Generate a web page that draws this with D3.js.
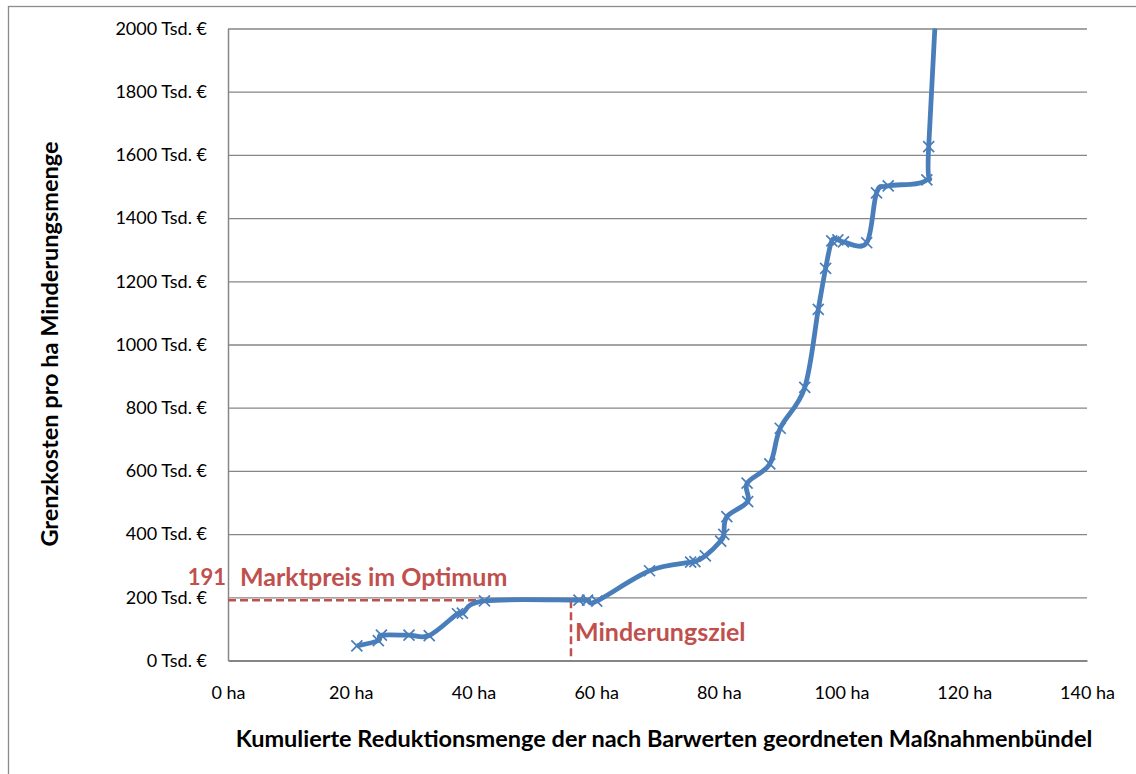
<!DOCTYPE html>
<html>
<head>
	<meta charset="utf-8">
	<title>grenzkosten</title>
	<script type="text/javascript" src="https://cdn.jsdelivr.net/npm/d3@7/dist/d3.min.js"></script>
	<style type="text/css">
		body{
			margin: 0;
			background-color: #fff;
		}
		svg text{
			font-family: Lato, "Open Sans", sans-serif;
			fill: #000;
		}
	</style>
</head>
<body>
	<div id="chart"></div>
	<script type="text/javascript">
		// kumulierte Reduktionsmenge (ha) und Grenzkosten (Tsd. €)
		var reduktion = [21.0, 24.5, 25.0, 29.5, 32.8, 37.4, 38.2, 41.8, 57.2, 58.6, 60.1, 68.7, 75.4, 76.1, 77.8, 80.3, 80.8, 81.3, 84.7, 84.6, 88.3, 90.0, 94.0, 96.2, 97.4, 98.4, 99.4, 100.3, 104.1, 105.7, 107.6, 113.9, 114.2, 116.4];
		var grenzkosten = [46, 63, 80, 80, 79, 148, 150, 189, 191, 191, 188, 284, 311, 313, 331, 378, 399, 455, 503, 561, 622, 735, 864, 1111, 1241, 1328, 1331, 1325, 1322, 1480, 1502, 1521, 1626, 2450];
		var xTicks = [0, 20, 40, 60, 80, 100, 120, 140];
		var yTicks = [0, 200, 400, 600, 800, 1000, 1200, 1400, 1600, 1800, 2000];
		var marktpreis = 191;
		var minderungsziel = 55.9;

		var width = 1136, height = 774;
		var pLeft = 228, pRight = 1087, pTop = 28.5, pBottom = 660.5;
		var blue = '#4a7ebb', red = '#c0504d', grid = '#868686';

		var svg = d3.select('#chart').append('svg')
			.attr('width', width)
			.attr('height', height);

		// aeusserer Rahmen
		svg.append('rect')
			.attr('x', 8.5).attr('y', 6.5)
			.attr('width', 1140).attr('height', 800)
			.attr('fill', 'none')
			.attr('stroke', '#8c8c8c')
			.attr('stroke-width', 1.3);

		var x = d3.scaleLinear().domain([0, 140]).range([pLeft, pRight]);
		var y = d3.scaleLinear().domain([0, 2000]).range([pBottom, pTop]);

		// Gitterlinien
		svg.append('g')
			.attr('transform', 'translate(' + pLeft + ',0)')
			.call(d3.axisLeft(y).tickValues(yTicks.slice(1)).tickSize(-(pRight - pLeft)).tickFormat(''))
			.call(function(g){
				g.select('.domain').remove();
				g.selectAll('line').attr('stroke', grid).attr('stroke-width', 1.3);
			});

		// y-Achse
		svg.append('g')
			.attr('transform', 'translate(' + pLeft + ',0)')
			.call(d3.axisLeft(y).tickValues(yTicks).tickSize(0).tickPadding(21)
				.tickFormat(function(d){ return d + ' Tsd. €'; }))
			.call(function(g){
				g.select('.domain').attr('stroke', grid).attr('stroke-width', 1.5);
				g.selectAll('text').style('font-size', '18px').attr('fill', '#000');
			});

		// x-Achse
		svg.append('g')
			.attr('transform', 'translate(0,' + pBottom + ')')
			.call(d3.axisBottom(x).tickValues(xTicks).tickSize(0).tickPadding(26)
				.tickFormat(function(d){ return d + ' ha'; }))
			.call(function(g){
				g.select('.domain').attr('stroke', grid).attr('stroke-width', 2);
				g.selectAll('text').style('font-size', '18px').attr('fill', '#000');
			});

		// Achsentitel
		svg.append('text')
			.attr('x', 664).attr('y', 747)
			.attr('text-anchor', 'middle')
			.style('font-size', '23.5px').style('font-weight', 'bold')
			.text('Kumulierte Reduktionsmenge der nach Barwerten geordneten Maßnahmenbündel');

		svg.append('text')
			.attr('transform', 'translate(58,344) rotate(-90)')
			.attr('text-anchor', 'middle')
			.style('font-size', '23.5px').style('font-weight', 'bold')
			.text('Grenzkosten pro ha Minderungsmenge');

		// Markierungen Optimum
		svg.append('line')
			.attr('x1', x(0)).attr('x2', x(minderungsziel))
			.attr('y1', y(marktpreis)).attr('y2', y(marktpreis))
			.attr('stroke', red).attr('stroke-width', 2.5)
			.attr('stroke-dasharray', '8,4');
		svg.append('line')
			.attr('x1', x(minderungsziel)).attr('x2', x(minderungsziel))
			.attr('y1', y(marktpreis)).attr('y2', y(0))
			.attr('stroke', red).attr('stroke-width', 2.5)
			.attr('stroke-dasharray', '8,4');

		svg.append('text')
			.attr('x', 226).attr('y', 585)
			.attr('text-anchor', 'end')
			.style('font-size', '22px').style('font-weight', 'bold')
			.style('fill', red)
			.text(marktpreis);
		svg.append('text')
			.attr('x', 240).attr('y', 586)
			.style('font-size', '25px').style('font-weight', 'bold')
			.style('fill', red)
			.text('Marktpreis im Optimum');
		svg.append('text')
			.attr('x', 575).attr('y', 641)
			.style('font-size', '25px').style('font-weight', 'bold')
			.style('fill', red)
			.text('Minderungsziel');

		// Kurve
		svg.append('clipPath').attr('id', 'plotclip')
			.append('rect')
			.attr('x', pLeft).attr('y', pTop)
			.attr('width', pRight - pLeft).attr('height', pBottom - pTop);

		var punkte = reduktion.map(function(d, i){ return [d, grenzkosten[i]]; });

		var plot = svg.append('g').attr('clip-path', 'url(#plotclip)');

		var linie = d3.line()
			.x(function(d){ return x(d[0]); })
			.y(function(d){ return y(d[1]); })
			.curve(d3.curveCatmullRom.alpha(0));

		plot.append('path')
			.datum(punkte)
			.attr('d', linie)
			.attr('fill', 'none')
			.attr('stroke', blue)
			.attr('stroke-width', 4.8)
			.attr('stroke-linejoin', 'round');

		var s = 5.5;
		plot.selectAll('path.marker').data(punkte).enter()
			.append('path')
			.attr('class', 'marker')
			.attr('d', function(d){
				var cx = x(d[0]), cy = y(d[1]);
				return 'M' + (cx - s) + ',' + (cy - s) + 'L' + (cx + s) + ',' + (cy + s) +
					'M' + (cx - s) + ',' + (cy + s) + 'L' + (cx + s) + ',' + (cy - s);
			})
			.attr('stroke', blue)
			.attr('stroke-width', 1.7);
	</script>
</body>
</html>
